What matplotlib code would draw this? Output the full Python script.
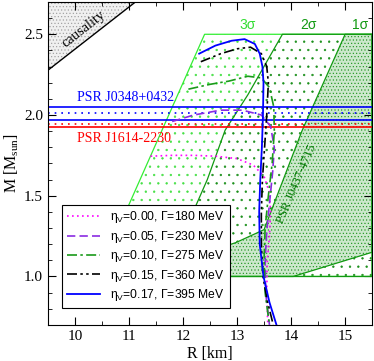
import matplotlib.pyplot as plt
from matplotlib.ticker import MultipleLocator

plt.rcParams['font.family'] = 'Liberation Serif'
plt.rcParams['hatch.linewidth'] = 0.45

# EoS parameters for the legend
eta_v = ['0.00', '0.05', '0.10', '0.15', '0.17']
gamma = [180, 230, 275, 360, 395]

# mass-radius curves (R in km, M in Msun)
r_000 = [11.40, 11.8, 12.2, 12.6, 13.0, 13.3, 13.5, 13.6, 13.62, 13.6, 13.56, 13.55, 13.57]
m_000 = [1.745, 1.75, 1.75, 1.745, 1.73, 1.69, 1.62, 1.52, 1.40, 1.25, 1.10, 0.90, 0.70]

r_005 = [11.80, 12.2, 12.7, 13.1, 13.45, 13.62, 13.69, 13.66, 13.60, 13.55, 13.52, 13.53, 13.60]
m_005 = [1.96, 2.00, 2.03, 2.03, 2.00, 1.93, 1.80, 1.65, 1.45, 1.28, 1.10, 0.90, 0.70]

r_010 = [12.10, 12.5, 12.85, 13.2, 13.45, 13.6, 13.68, 13.69, 13.65, 13.58, 13.52, 13.50, 13.52, 13.60]
m_010 = [2.16, 2.19, 2.21, 2.24, 2.23, 2.17, 2.05, 1.90, 1.70, 1.50, 1.30, 1.10, 0.90, 0.70]

r_015 = [12.33, 12.7, 13.0, 13.25, 13.45, 13.55, 13.58, 13.55, 13.51, 13.47, 13.45, 13.45, 13.48, 13.56, 13.67]
m_015 = [2.33, 2.38, 2.41, 2.42, 2.38, 2.30, 2.20, 2.00, 1.80, 1.60, 1.40, 1.20, 1.00, 0.85, 0.70]

r_017 = [12.30, 12.6, 12.9, 13.14, 13.33, 13.42, 13.47, 13.49, 13.48, 13.46, 13.43, 13.41, 13.42, 13.49, 13.60, 13.73]
m_017 = [2.38, 2.43, 2.46, 2.47, 2.44, 2.38, 2.30, 2.20, 2.00, 1.80, 1.60, 1.40, 1.20, 1.00, 0.84, 0.70]

# PSR J0437-4715 regions
sig3_r = [10.41, 12.4, 15.5, 15.5]
sig3_m = [1.0, 2.5, 2.5, 1.0]
sig2_r = [11.85, 12.0, 12.21, 12.45, 12.78, 13.2, 13.84, 15.5, 15.5]
sig2_m = [1.0, 1.2, 1.417, 1.6, 1.906, 2.125, 2.5, 2.5, 1.0]
sig1_r = [11.0, 12.0, 12.98, 13.5, 14.2, 15.0, 15.5, 15.5, 14.04]
sig1_m = [1.0, 1.1, 1.21, 1.29, 1.9, 2.5, 2.5, 1.15, 1.0]

# causality limit
caus_r = [9.5, 11.12]
caus_m = [2.277, 2.7]

# pulsar mass lines
j0348_solid = [1.97, 2.05]
j0348_dot = [2.01]
j1614_solid = [1.925]
j1614_dot = [1.945]

fig = plt.figure(figsize=(3.74, 3.61), dpi=100)
ax = fig.add_axes([0.128, 0.1, 0.867, 0.8945])

# green regions
ax.fill(sig3_r, sig3_m, facecolor='white', edgecolor='#44e044', hatch='..', linewidth=0)
ax.plot(sig3_r + sig3_r[:1], sig3_m + sig3_m[:1], color='#33ee33', lw=0.9)
ax.fill(sig2_r, sig2_m, facecolor='white', edgecolor='#1a8f1a', hatch='..', linewidth=0)
ax.plot(sig2_r + sig2_r[:1], sig2_m + sig2_m[:1], color='#119911', lw=0.9)
ax.fill(sig1_r, sig1_m, facecolor='#cce8cc', edgecolor='#229622', hatch='.....', linewidth=0)
ax.plot(sig1_r + sig1_r[:1], sig1_m + sig1_m[:1], color='#119911', lw=0.9)

# causality
ax.fill(caus_r + [caus_r[0]], caus_m + [caus_m[1]], facecolor='#f0f0f0',
        edgecolor='#a0a0a0', hatch='.....', linewidth=0)
ax.plot(caus_r, caus_m, color='black', lw=1.0)

# pulsar bands
for m in j0348_solid:
    ax.axhline(m, color='blue', lw=1.2)
for m in j0348_dot:
    ax.axhline(m, color='blue', lw=1.2, linestyle=(0, (1, 3)))
for m in j1614_solid:
    ax.axhline(m, color='red', lw=1.2)
for m in j1614_dot:
    ax.axhline(m, color='red', lw=1.2, linestyle=(0, (1, 3)))

# M-R curves
curves = [(r_000, m_000, '#ff00ff', (0, (1, 2))),
          (r_005, m_005, '#8a2be2', (0, (5, 2.5))),
          (r_010, m_010, '#1a9a1a', (0, (6, 2, 1.5, 2))),
          (r_015, m_015, 'black', (0, (6, 2, 1.5, 2, 1.5, 2))),
          (r_017, m_017, 'blue', '-')]
for i, (r, m, c, ls) in enumerate(curves):
    lbl = 'η$_\\mathregular{V}$=%s, Γ=%d MeV' % (eta_v[i], gamma[i])
    ax.plot(r, m, color=c, linestyle=ls, lw=1.3 if i == 4 else 1.2, label=lbl)

# annotations
ax.text(10.17, 2.53, 'causality', rotation=38, ha='center', va='center', fontsize=10.5)
ax.text(10.03, 2.11, 'PSR J0348+0432', color='blue', ha='left', va='center', fontsize=10)
ax.text(10.03, 1.856, 'PSR J1614-2230', color='red', ha='left', va='center', fontsize=10)
ax.text(13.2, 2.56, '3σ', color='#33dd33', ha='center', va='center', fontsize=10,
        family='Liberation Sans')
ax.text(14.32, 2.56, '2σ', color='#119911', ha='center', va='center', fontsize=10,
        family='Liberation Sans')
ax.text(15.27, 2.56, '1σ', color='#119911', ha='center', va='center', fontsize=10,
        family='Liberation Sans')
ax.text(14.1, 1.57, 'PSR J0437-4715', color='#007700', rotation=67, ha='center',
        va='center', fontsize=9)

leg = ax.legend(loc='lower left', bbox_to_anchor=(0.043, 0.053), borderaxespad=0,
                fancybox=False, framealpha=1, edgecolor='black', handlelength=2.8,
                labelspacing=0.28, prop={'family': 'Liberation Sans', 'size': 8.7})
leg.get_frame().set_linewidth(0.8)

ax.set_xlim(9.5, 15.5)
ax.set_ylim(0.7, 2.7)
ax.xaxis.set_major_locator(MultipleLocator(1))
ax.xaxis.set_minor_locator(MultipleLocator(0.5))
ax.yaxis.set_major_locator(MultipleLocator(0.5))
ax.yaxis.set_minor_locator(MultipleLocator(0.1))
ax.tick_params(which='both', direction='in', top=True, right=True, labelsize=11)
ax.tick_params(which='major', length=6)
ax.tick_params(which='minor', length=3)
ax.set_xlabel('R [km]', fontsize=11.5, labelpad=2)
ax.set_ylabel('M [M$_\\mathregular{sun}$]', fontsize=11.5, labelpad=2)

fig.savefig('out.png', dpi=100)
